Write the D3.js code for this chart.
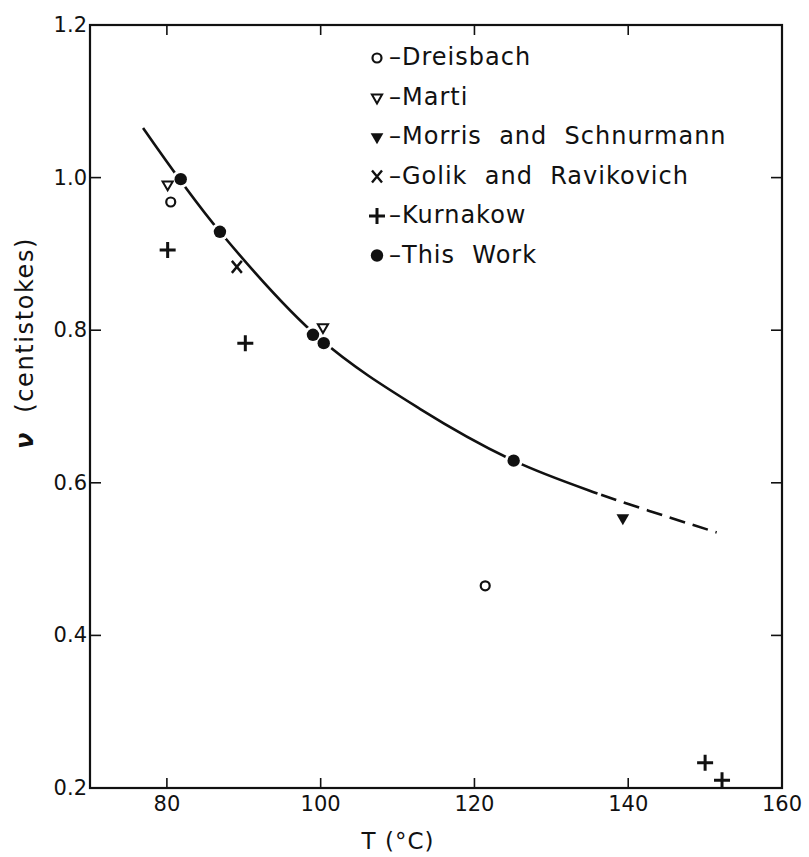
<!DOCTYPE html>
<html>
<head>
<meta charset="utf-8">
<script src="https://cdn.jsdelivr.net/npm/d3@7"></script>
<style>
  body { margin: 0; background: #fff; }
  svg { display: block; }
  text { font-family: "DejaVu Sans", sans-serif; fill: #111; }
</style>
</head>
<body>
<svg id="chart" width="809" height="857"></svg>
<script>
// data: [T (°C), kinematic viscosity (cSt)]
const dreisbach = [[80.5, 0.968], [121.4, 0.465]];
const marti = [[80.1, 0.991], [100.3, 0.804]];
const morris = [[139.3, 0.554]];
const golik = [[89.1, 0.883]];
const kurnakow = [[80.1, 0.905], [90.2, 0.783], [150.0, 0.233], [152.2, 0.210]];
const thisWork = [[81.8, 0.998], [86.9, 0.929], [99.0, 0.794], [100.4, 0.783], [125.1, 0.629]];

// fitted curve; solid up to dashStart, dashed extrapolation after
const curvePts = [[76.9, 1.065], [86.9, 0.929], [100.0, 0.788], [112.9, 0.697],
                  [125.1, 0.629], [136.0, 0.586], [151.5, 0.535]];
const dashStart = 136;

const xTicks = [80, 100, 120, 140, 160];
const yTicks = [0.2, 0.4, 0.6, 0.8, 1.0, 1.2];

const legendItems = [
  {label: "–Dreisbach", kind: "openCircle"},
  {label: "–Marti", kind: "openTri"},
  {label: "–Morris  and  Schnurmann", kind: "fillTri"},
  {label: "–Golik  and  Ravikovich", kind: "cross"},
  {label: "–Kurnakow", kind: "plus"},
  {label: "–This  Work", kind: "dot"}
];

const svg = d3.select("#chart");
const x = d3.scaleLinear().domain([70, 160]).range([90, 782]);
const y = d3.scaleLinear().domain([0.2, 1.2]).range([788, 25]);

// frame
svg.append("rect")
    .attr("x", x(70)).attr("y", y(1.2))
    .attr("width", x(160) - x(70)).attr("height", y(0.2) - y(1.2))
    .attr("fill", "none").attr("stroke", "#111").attr("stroke-width", 2.2);

// inward ticks on all four sides
const inner = xTicks.filter(d => d < 160);
svg.append("g").selectAll("line").data(inner).join("line")
    .attr("x1", d => x(d)).attr("x2", d => x(d))
    .attr("y1", y(0.2)).attr("y2", y(0.2) - 10)
    .attr("stroke", "#111").attr("stroke-width", 1.6);
svg.append("g").selectAll("line").data(inner).join("line")
    .attr("x1", d => x(d)).attr("x2", d => x(d))
    .attr("y1", y(1.2)).attr("y2", y(1.2) + 10)
    .attr("stroke", "#111").attr("stroke-width", 1.6);
const innerY = yTicks.filter(d => d > 0.2 && d < 1.2);
svg.append("g").selectAll("line").data(innerY).join("line")
    .attr("x1", x(70)).attr("x2", x(70) + 11)
    .attr("y1", d => y(d)).attr("y2", d => y(d))
    .attr("stroke", "#111").attr("stroke-width", 1.6);
svg.append("g").selectAll("line").data(innerY).join("line")
    .attr("x1", x(160)).attr("x2", x(160) - 11)
    .attr("y1", d => y(d)).attr("y2", d => y(d))
    .attr("stroke", "#111").attr("stroke-width", 1.6);

// tick labels
svg.append("g").selectAll("text").data(xTicks).join("text")
    .attr("x", d => x(d)).attr("y", 811)
    .attr("text-anchor", "middle").attr("font-size", 21)
    .text(d => d);
svg.append("g").selectAll("text").data(yTicks).join("text")
    .attr("x", 87).attr("y", d => y(d) + 7)
    .attr("text-anchor", "end").attr("font-size", 21)
    .text(d => d.toFixed(1));

// axis titles
svg.append("text")
    .attr("x", 398).attr("y", 849)
    .attr("text-anchor", "middle").attr("font-size", 23)
    .attr("letter-spacing", 1)
    .text("T (°C)");
const yTitle = svg.append("text")
    .attr("transform", "translate(33,343) rotate(-90)")
    .attr("text-anchor", "middle").attr("font-size", 24)
    .attr("letter-spacing", 1.6)
    .style("white-space", "pre");
yTitle.append("tspan").attr("font-weight", "bold").attr("font-style", "italic").text("ν");
yTitle.append("tspan").text("  (centistokes)");

// curve: one smooth path, solid part and dashed tail
const line = d3.line().x(d => x(d[0])).y(d => y(d[1])).curve(d3.curveCatmullRom);
const solid = svg.append("path").datum(curvePts)
    .attr("d", line).attr("fill", "none")
    .attr("stroke", "#111").attr("stroke-width", 2.6);
const total = solid.node().getTotalLength();
let lo = 0, hi = total;
for (let i = 0; i < 30; i++) {
  const mid = (lo + hi) / 2;
  if (solid.node().getPointAtLength(mid).x < x(dashStart)) lo = mid; else hi = mid;
}
solid.attr("stroke-dasharray", `${lo},${total}`);
svg.append("path").datum(curvePts)
    .attr("d", line).attr("fill", "none")
    .attr("stroke", "#111").attr("stroke-width", 2.6)
    .attr("stroke-dasharray", `0,${lo + 4},${d3.range(12).map(() => "16,8").join(",")}`);

// markers
function drawMarker(g, kind, cx, cy) {
  if (kind === "openCircle") {
    g.append("circle").attr("cx", cx).attr("cy", cy).attr("r", 4.5)
        .attr("fill", "none").attr("stroke", "#111").attr("stroke-width", 2.2);
  } else if (kind === "openTri") {
    g.append("path").attr("transform", `translate(${cx},${cy}) rotate(180)`)
        .attr("d", d3.symbol(d3.symbolTriangle, 45)())
        .attr("fill", "#fff").attr("stroke", "#111").attr("stroke-width", 2);
  } else if (kind === "fillTri") {
    g.append("path").attr("transform", `translate(${cx},${cy}) rotate(180)`)
        .attr("d", d3.symbol(d3.symbolTriangle, 70)())
        .attr("fill", "#111");
  } else if (kind === "cross") {
    g.append("path").attr("transform", `translate(${cx},${cy})`)
        .attr("d", "M-5,-6L5,6M5,-6L-5,6")
        .attr("stroke", "#111").attr("stroke-width", 2.4);
  } else if (kind === "plus") {
    g.append("path").attr("transform", `translate(${cx},${cy})`)
        .attr("d", "M-8,0L8,0M0,-8L0,8")
        .attr("stroke", "#111").attr("stroke-width", 3);
  } else if (kind === "dot") {
    g.append("circle").attr("cx", cx).attr("cy", cy).attr("r", 6.2)
        .attr("fill", "#111");
  }
}

const marks = svg.append("g");
// white halo so the curve breaks around the filled dots
marks.selectAll("circle.halo").data(thisWork).join("circle")
    .attr("class", "halo")
    .attr("cx", d => x(d[0])).attr("cy", d => y(d[1])).attr("r", 9)
    .attr("fill", "#fff");
[[dreisbach, "openCircle"], [marti, "openTri"], [morris, "fillTri"],
 [golik, "cross"], [kurnakow, "plus"], [thisWork, "dot"]].forEach(([pts, kind]) => {
  pts.forEach(d => drawMarker(marks, kind, x(d[0]), y(d[1])));
});

// legend
const legend = svg.append("g");
legendItems.forEach((d, i) => {
  const by = 65 + i * 39.5;
  drawMarker(legend, d.kind, 377, by - 7);
  legend.append("text")
      .attr("x", 389).attr("y", by)
      .attr("font-size", 24)
      .attr("letter-spacing", 1)
      .style("white-space", "pre")
      .text(d.label);
});
</script>
</body>
</html>
